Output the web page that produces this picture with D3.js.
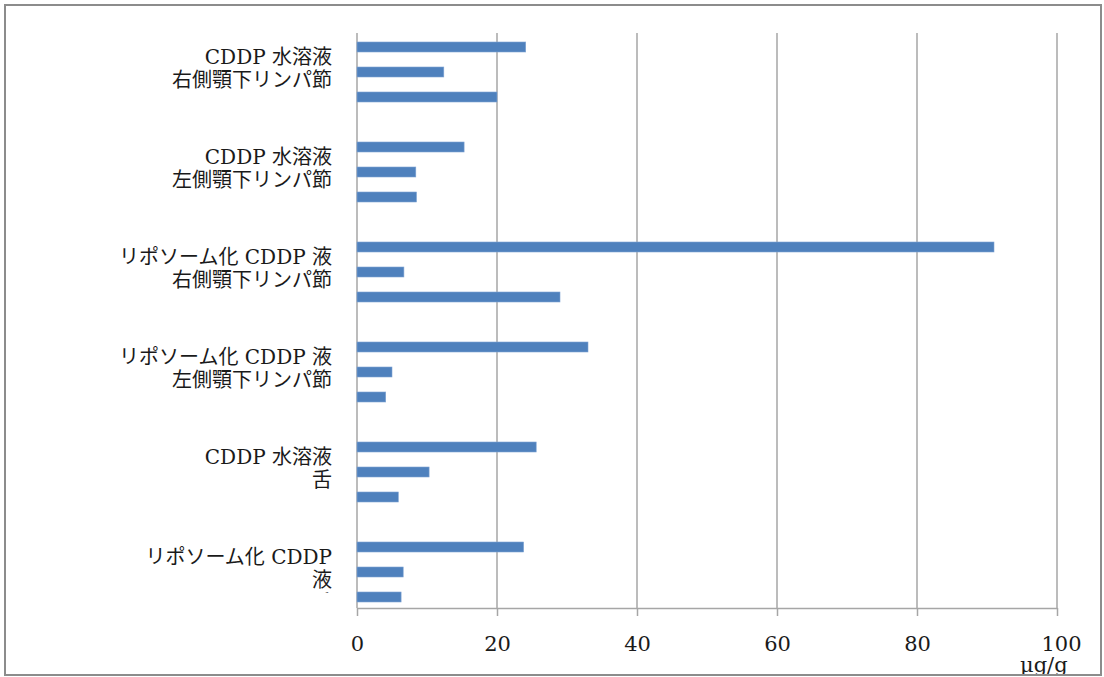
<!DOCTYPE html>
<html>
<head>
<meta charset="utf-8">
<script src="https://cdn.jsdelivr.net/npm/d3@7"></script>
<style>
  html, body { margin: 0; padding: 0; background: #fff; }
  svg { display: block; }
</style>
</head>
<body>
<svg id="chart" width="1104" height="677"></svg>
<script>
// ---- data (top group first, top bar first) ----
const categories = [
  "CDDP 水溶液 右側顎下リンパ節",
  "CDDP 水溶液 左側顎下リンパ節",
  "リポソーム化 CDDP 液 右側顎下リンパ節",
  "リポソーム化 CDDP 液 左側顎下リンパ節",
  "CDDP 水溶液 舌",
  "リポソーム化 CDDP 液 舌"
];
const categoryLines = [
  ["CDDP 水溶液", "右側顎下リンパ節"],
  ["CDDP 水溶液", "左側顎下リンパ節"],
  ["リポソーム化 CDDP 液", "右側顎下リンパ節"],
  ["リポソーム化 CDDP 液", "左側顎下リンパ節"],
  ["CDDP 水溶液", "舌"],
  ["リポソーム化 CDDP", "液", "舌"]
];
const seriesNames = ["A", "B", "C"];
const seriesA = [24.1, 15.3, 91.0, 33.0, 25.6, 23.8];
const seriesB = [12.4, 8.4, 6.7, 5.0, 10.3, 6.6];
const seriesC = [20.0, 8.5, 29.0, 4.1, 5.9, 6.3];
const xTicks = [0, 20, 40, 60, 80, 100];
const unitLabel = "μg/g";

// ---- layout ----
const svg = d3.select("#chart");
const x0 = 357, x1 = 1057, plotTop = 33, axisY = 608;
const x = d3.scaleLinear().domain([0, 100]).range([x0, x1]);
const y = d3.scaleBand().domain(categories).range([22, 622]).paddingInner(0).paddingOuter(0);
const ySub = d3.scaleBand().domain(seriesNames).range([0, y.bandwidth()]).paddingInner(0.6).paddingOuter(0.8);

const serif = "'DejaVu Serif', 'Noto Sans CJK JP', serif";
const gridColor = "#a6a6a6";
const textColor = "#1a1a1a";

// gridlines
svg.append("g").selectAll("line").data(xTicks.filter(d => d > 0)).join("line")
  .attr("x1", d => x(d)).attr("x2", d => x(d))
  .attr("y1", plotTop).attr("y2", axisY)
  .attr("stroke", gridColor).attr("stroke-width", 1.5);

// y axis line
svg.append("line").attr("x1", x0).attr("x2", x0).attr("y1", plotTop).attr("y2", axisY)
  .attr("stroke", gridColor).attr("stroke-width", 1.5);

// x axis
const xAxis = svg.append("g").attr("transform", `translate(0,${axisY})`)
  .call(d3.axisBottom(x).tickValues(xTicks).tickSize(8).tickPadding(20).tickSizeOuter(0));
xAxis.select(".domain").attr("stroke", gridColor).attr("stroke-width", 1.5);
xAxis.selectAll(".tick line").attr("stroke", gridColor).attr("stroke-width", 1.5);
xAxis.selectAll(".tick text")
  .attr("font-family", serif).attr("font-size", 21).attr("fill", textColor)
  .attr("dy", "0.35em").attr("y", 36)
  .attr("dx", d => d === 100 ? 4 : 0);

// bars
const allSeries = [seriesA, seriesB, seriesC];
const barData = [];
categories.forEach((c, i) => {
  seriesNames.forEach((s, j) => barData.push({ c, s, v: allSeries[j][i] }));
});
svg.append("g").selectAll("rect").data(barData).join("rect")
  .attr("x", x(0))
  .attr("y", d => y(d.c) + ySub(d.s))
  .attr("width", d => x(d.v) - x(0))
  .attr("height", ySub.bandwidth())
  .attr("fill", "#4f81bd")
  .attr("stroke", "#7fa3d3").attr("stroke-width", 0.6);

// category labels (clipped at the plot bottom like the original)
svg.append("clipPath").attr("id", "labclip")
  .append("rect").attr("x", 0).attr("y", 0).attr("width", 350).attr("height", 593);
const labG = svg.append("g").attr("clip-path", "url(#labclip)");
categories.forEach((c, i) => {
  const cy = y(c) + y.bandwidth() / 2;
  const t = labG.append("text")
    .attr("text-anchor", "end")
    .attr("font-family", serif).attr("font-size", 20).attr("fill", textColor);
  categoryLines[i].forEach((ln, k) => {
    t.append("tspan").attr("x", 332).attr("y", cy - 8 + k * 23).text(ln);
  });
});

// unit label
svg.append("text").attr("x", 1020).attr("y", 672)
  .attr("font-family", serif).attr("font-size", 21).attr("fill", textColor)
  .text(unitLabel);

// outer border
svg.append("rect").attr("x", 5).attr("y", 5).attr("width", 1096).attr("height", 670)
  .attr("fill", "none").attr("stroke", "#8c8c8c").attr("stroke-width", 2);
</script>
</body>
</html>
